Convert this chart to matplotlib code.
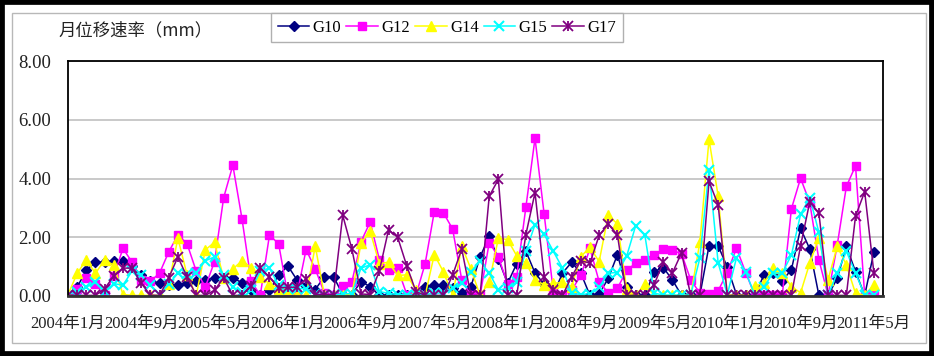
import matplotlib
matplotlib.use('Agg')
import matplotlib.pyplot as plt
from matplotlib.patches import Rectangle

# monthly data, 2004-01 .. 2011-05 (89 months)
g10 = [0.05, 0.3, 0.88, 1.15, 1.15, 1.19, 1.19, 1.02, 0.7, 0.5, 0.45, 0.37, 0.39, 0.45, 0.5, 0.54, 0.62, 0.62, 0.62, 0.45,
       0.2, 0.02, 0.2, 0.7, 1.03, 0.55, 0.35, 0.22, 0.66, 0.66,
       0.05, 0.05, 0.49, 0.32, 0.02, 0.03, 0.03, 0.03, 0.09, 0.29, 0.38, 0.38, 0.26, 0.09, 0.32, 1.33, 2.03, 1.25, 0.43, 1.1,
       1.53, 0.78, 0.4, 0.05, 0.78, 1.15, 0.78, 0.02, 0.07, 0.6,
       1.41, 0.3, 0.02, 0.02, 0.83, 0.97, 0.55, 0.02, 0.02, 0.02, 1.71, 1.71, 0.98, 0.05, 0.02, 0.02, 0.72, 0.78, 0.52, 0.9,
       2.3, 1.6, 0.02, 0.02, 0.6, 1.69, 0.83, 0.02, 1.49]
g12 = [0.05, 0.25, 0.6, 0.4, 0.03, 0.68, 1.62, 1.15, 0.55, 0.5, 0.78, 1.5, 2.08, 1.78, 0.85, 0.31, 1.17, 3.35, 4.45, 2.63,
       0.5, 0.03, 2.07, 1.78, 0.03, 0.05, 1.58, 0.92, 0.1, 0.03,
       0.34, 0.48, 1.85, 2.52, 1.24, 0.88, 0.94, 0.05, 0.03, 1.1, 2.87, 2.83, 2.28, 0.55, 0.02, 0.02, 1.82, 1.34, 0.4, 0.66,
       3.02, 5.37, 2.78, 0.15, 0.03, 0.2, 0.7, 1.62, 0.49, 0.1,
       0.26, 0.87, 1.12, 1.23, 1.41, 1.6, 1.55, 1.44, 0.55, 0.1, 0.07, 0.18, 0.8, 1.63, 0.8, 0.03, 0.03, 0.03, 0.03, 2.97,
       4.01, 3.18, 1.23, 0.03, 1.73, 3.73, 4.43, 0.03, 0.03]
g14 = [0.05, 0.77, 1.23, 0.77, 1.23, 1.05, 0.05, 0.02, 0.02, 0.02, 0.02, 0.4, 1.97, 0.72, 0.02, 1.57, 1.83, 0.6, 0.92, 1.2,
       0.97, 0.65, 0.42, 0.25, 0.25, 0.02, 0.02, 1.7, 0.02, 0.02,
       0.03, 0.05, 1.8, 2.2, 1.1, 1.15, 0.7, 0.72, 0.2, 0.02, 1.41, 0.82, 0.02, 1.7, 0.92, 0.02, 0.47, 1.97, 1.92, 1.37,
       1.12, 0.55, 0.38, 0.43, 0.46, 0.32, 1.34, 1.66, 1.17, 2.75,
       2.45, 0.25, 0.03, 0.4, 0.02, 0.02, 0.02, 0.02, 0.02, 1.83, 5.33, 3.4, 0.03, 0.03, 0.03, 0.34, 0.43, 0.95, 0.78, 0.32,
       0.11, 1.12, 1.98, 0.55, 1.69, 1.06, 0.09, 0.03, 0.38]
g15 = [0.05, 0.15, 0.3, 0.48, 0.15, 0.42, 0.37, 0.85, 0.7, 0.37, 0.05, 0.4, 0.78, 0.75, 0.8, 1.2, 1.33, 0.7, 0.3, 0.15,
       0.2, 0.85, 0.95, 0.37, 0.25, 0.25, 0.25, 0.08, 0.02, 0.02,
       0.08, 0.08, 0.95, 1.06, 0.15, 0.09, 0.05, 0.05, 0.05, 0.05, 0.1, 0.1, 0.26, 0.43, 0.83, 1.18, 0.78, 0.2, 0.26, 0.49,
       1.52, 2.43, 2.1, 1.52, 0.95, 0.09, 0.05, 0.08, 0.3, 0.78,
       0.8, 1.35, 2.4, 2.06, 0.1, 0.03, 0.03, 0.03, 0.03, 1.29, 4.3, 1.12, 0.05, 1.3, 0.83, 0.03, 0.32, 0.78, 0.78, 1.4,
       2.78, 3.35, 2.17, 0.03, 0.78, 1.52, 0.78, 0.03, 0.03]
g17 = [0.03, 0.02, 0.02, 0.02, 0.25, 0.68, 0.95, 0.95, 0.43, 0.03, 0.02, 0.62, 1.33, 0.65, 0.02, 0.02, 0.2, 0.62, 0.02, 0.02,
       0.35, 0.95, 0.65, 0.27, 0.3, 0.3, 0.58, 0.05, 0.05, 0.05,
       2.75, 1.6, 0.07, 0.05, 0.85, 2.25, 2.0, 1.02, 0.15, 0.02, 0.02, 0.02, 0.71, 1.6, 0.02, 0.02, 3.4, 3.97, 0.02, 0.02,
       2.09, 3.52, 0.66, 0.2, 0.02, 0.66, 1.2, 1.12, 2.06, 2.45,
       2.08, 0.02, 0.02, 0.02, 0.38, 1.15, 0.78, 1.47, 0.02, 0.02, 3.9, 3.1, 0.02, 0.02, 0.02, 0.02, 0.02, 0.02, 0.02, 0.02,
       1.71, 3.2, 2.83, 0.02, 0.02, 0.02, 2.72, 3.55, 0.8]

xlabels = ['2004年1月', '2004年9月', '2005年5月', '2006年1月', '2006年9月', '2007年5月',
           '2008年1月', '2008年9月', '2009年5月', '2010年1月', '2010年9月', '2011年5月']
xticks = [0, 8, 16, 24, 32, 40, 48, 56, 64, 72, 80, 88]

fonts = ['Liberation Serif', 'Noto Sans CJK SC']
x = list(range(len(g10)))

fig = plt.figure(figsize=(9.34, 3.56), dpi=100)
ax = fig.add_axes([68/934, 1-296/356, (883-68)/934, (296-61)/356])

lw = 1.1
h10, = ax.plot(x, g10, color='#000080', marker='D', ms=5.5, lw=lw, label='G10')
h12, = ax.plot(x, g12, color='#FF00FF', marker='s', ms=6, lw=lw, label='G12')
h14, = ax.plot(x, g14, color='#FFFF00', marker='^', ms=7.5, lw=lw, label='G14')
h15, = ax.plot(x, g15, color='#00FFFF', marker='x', ms=6.5, mew=1.5, lw=lw, label='G15')
h17, = ax.plot(x, g17, color='#800080', marker='x', ms=6.5, mew=1.3, lw=lw, label='G17')
h17b, = ax.plot(x, g17, color='#800080', marker='|', ms=7.5, mew=1.3, lw=0)

ax.set_xlim(0, 89)
ax.set_ylim(0, 8)
ax.set_yticks([0, 2, 4, 6, 8])
ax.set_yticklabels(['%.2f' % v for v in [0, 2, 4, 6, 8]], fontfamily=fonts, fontsize=13.5)
ax.set_xticks(xticks)
ax.set_xticklabels(xlabels, fontfamily=fonts, fontsize=12)
ax.tick_params(length=0, pad=12, colors='#222222')
ax.tick_params(axis='x', pad=14)
ax.grid(axis='y', color='#c0c0c0', lw=1.2)
ax.set_axisbelow(True)
for s in ax.spines.values():
    s.set_linewidth(1.3)
    s.set_color('black')
ax.spines['bottom'].set_linewidth(2)
ax.spines['bottom'].set_color('#333333')

# title top left
fig.text(58/934, 1-30/356, '月位移速率（mm）', fontfamily=['Noto Sans CJK SC'], fontsize=12.5, va='center', ha='left', color='#222222')

# legend box
leg = fig.legend([h10, h12, h14, h15, (h17, h17b)], ['G10', 'G12', 'G14', 'G15', 'G17'],
                 loc='upper left', bbox_to_anchor=(271/934, 1-13/356), borderaxespad=0, ncol=5, frameon=True,
                 fancybox=False, edgecolor='#b0b0b0', framealpha=1, handlelength=1.9, handletextpad=0.2,
                 columnspacing=0.3, borderpad=0.4, prop={'family': fonts, 'size': 12})
leg.get_frame().set_linewidth(1)

# outer frames
fig.patches.append(Rectangle((12/934, 1-343/356), (926-12)/934, (343-13)/356, transform=fig.transFigure,
                             fill=False, edgecolor='#b8b8b8', lw=1))
fig.patches.append(Rectangle((0, 0), 1, 1, transform=fig.transFigure, fill=False, edgecolor='black', lw=7))

fig.savefig('out.png', dpi=100)
